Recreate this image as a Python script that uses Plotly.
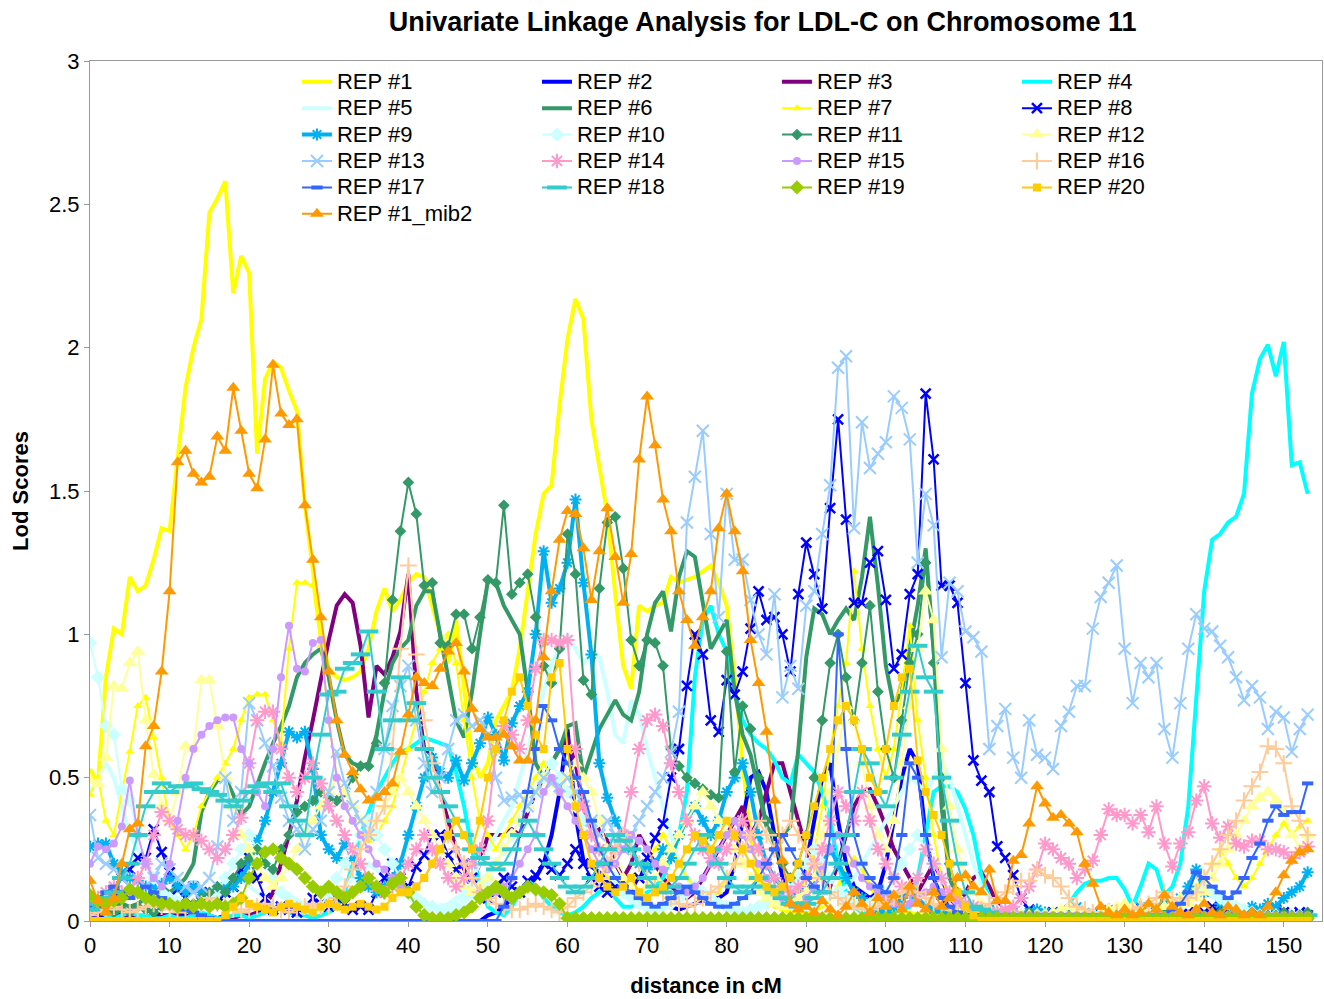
import plotly.graph_objects as go

distance_cM = list(range(154))
x_ticks = [0, 10, 20, 30, 40, 50, 60, 70, 80, 90, 100, 110, 120, 130, 140, 150]

r1 = [0.53,0.48,0.85,1.02,1.00,1.20,1.15,1.17,1.26,1.37,
      1.36,1.62,1.86,2.00,2.10,2.47,2.52,2.58,2.19,2.32,
      2.26,1.63,1.89,1.95,1.93,1.85,1.78,1.45,1.22,1.00,
      0.88,0.85,0.84,0.85,0.87,0.95,1.08,1.16,1.08,1.12,
      1.18,1.21,1.20,1.10,1.00,0.90,1.05,0.82,0.58,0.50,
      0.55,0.70,0.75,0.80,0.95,1.15,1.35,1.49,1.52,1.80,
      2.03,2.17,2.10,1.75,1.58,1.42,1.14,0.89,0.81,1.10,
      1.08,1.10,1.11,1.20,1.18,1.19,1.20,1.22,1.24,1.18,
      1.10,0.85,0.55,0.30,0.15,0.08,0.05,0.04,0.03,0.03,
      0.03,0.04,0.05,0.08,0.12,0.18,0.22,0.18,0.12,0.08,
      0.05,0.04,0.03,0.03,0.02,0.02,0.03,0.04,0.03,0.02,
      0.02,0.02,0.03,0.02,0.02,0.03,0.02,0.02,0.02,0.03,
      0.02,0.02,0.03,0.02,0.02,0.02,0.03,0.02,0.02,0.02,
      0.03,0.02,0.02,0.03,0.02,0.02,0.03,0.02,0.02,0.04,
      0.03,0.02,0.03,0.02,0.03,0.04,0.03,0.02,0.03,0.02,
      0.02,0.03,0.02,0.02]
r2 = [0.03,0.06,0.04,0.03,0.02,0.03,0.05,0.04,0.03,0.02,
      0.02,0.03,0.02,0.01,0.01,0.01,0.00,0.00,0.00,0.00,
      0,0,0,0,0,0,0,0,0,0,
      0,0,0,0,0,0,0,0,0,0,
      0,0,0,0,0,0,0,0,0,0,
      0.02,0.03,0.05,0.08,0.10,0.12,0.15,0.20,0.30,0.45,
      0.67,0.37,0.21,0.19,0.17,0.14,0.12,0.12,0.10,0.08,
      0.06,0.05,0.06,0.05,0.04,0.05,0.06,0.07,0.08,0.08,
      0.10,0.20,0.35,0.50,0.52,0.45,0.30,0.15,0.08,0.10,
      0.20,0.35,0.50,0.55,0.35,0.20,0.12,0.10,0.08,0.10,
      0.20,0.35,0.50,0.60,0.55,0.30,0.15,0.08,0.05,0.03,
      0.02,0.02,0.01,0.02,0.01,0.02,0.01,0.02,0.01,0.02,
      0.01,0.02,0.01,0.02,0.01,0.02,0.01,0.02,0.01,0.02,
      0.01,0.02,0.01,0.02,0.01,0.02,0.01,0.02,0.01,0.02,
      0.01,0.02,0.01,0.02,0.01,0.02,0.01,0.02,0.01,0.02,
      0.01,0.02,0.01,0.02]
r3 = [0.01,0.02,0.01,0.02,0.01,0.02,0.01,0.02,0.01,0.02,
      0.01,0.02,0.01,0.02,0.01,0.02,0.01,0.02,0.01,0.02,
      0.02,0.03,0.05,0.10,0.20,0.30,0.42,0.57,0.70,0.84,
      0.98,1.10,1.14,1.11,0.96,0.71,0.89,0.86,0.92,1.01,
      1.21,0.80,0.60,0.58,0.45,0.35,0.25,0.18,0.14,0.20,
      0.30,0.30,0.30,0.32,0.30,0.38,0.45,0.50,0.55,0.60,
      0.63,0.55,0.40,0.30,0.32,0.28,0.20,0.15,0.20,0.30,
      0.25,0.20,0.15,0.12,0.10,0.08,0.10,0.15,0.20,0.25,
      0.30,0.35,0.40,0.30,0.35,0.45,0.55,0.55,0.45,0.35,
      0.25,0.20,0.15,0.12,0.20,0.30,0.40,0.45,0.46,0.40,
      0.33,0.25,0.20,0.15,0.10,0.15,0.20,0.15,0.08,0.05,
      0.10,0.15,0.17,0.12,0.06,0.03,0.02,0.01,0.02,0.01,
      0.02,0.01,0.02,0.01,0.02,0.01,0.02,0.01,0.02,0.01,
      0.02,0.01,0.02,0.03,0.02,0.01,0.02,0.01,0.02,0.01,
      0.02,0.03,0.05,0.03,0.02,0.01,0.02,0.01,0.02,0.01,
      0.02,0.01,0.02,0.01]
r4 = [0.02,0.03,0.02,0.01,0.02,0.03,0.02,0.02,0.01,0.01,
      0.02,0.01,0.01,0.02,0.03,0.02,0.01,0.01,0.02,0.02,
      0.01,0.02,0.03,0.05,0.04,0.03,0.02,0.02,0.01,0.02,
      0.03,0.05,0.10,0.20,0.30,0.38,0.45,0.50,0.55,0.59,
      0.60,0.62,0.64,0.63,0.62,0.61,0.52,0.40,0.25,0.12,
      0.05,0.03,0.02,0.05,0.10,0.14,0.12,0.08,0.05,0.03,
      0.02,0.03,0.05,0.08,0.10,0.12,0.08,0.05,0.05,0.08,
      0.10,0.12,0.15,0.22,0.30,0.45,0.85,1.05,1.10,1.00,
      0.94,0.80,0.70,0.65,0.62,0.60,0.56,0.50,0.48,0.58,
      0.55,0.52,0.45,0.35,0.20,0.10,0.05,0.03,0.02,0.02,
      0.02,0.03,0.04,0.05,0.15,0.30,0.45,0.47,0.47,0.45,
      0.39,0.30,0.16,0.08,0.03,0.02,0.02,0.01,0.01,0.02,
      0.02,0.02,0.03,0.06,0.10,0.13,0.14,0.14,0.15,0.15,
      0.11,0.05,0.12,0.20,0.18,0.09,0.12,0.20,0.40,0.80,
      1.15,1.33,1.35,1.39,1.41,1.49,1.84,1.96,2.01,1.90,
      2.02,1.59,1.60,1.49]
r5 = [0.45,0.50,0.55,0.50,0.40,0.30,0.25,0.20,0.15,0.12,
      0.10,0.08,0.06,0.05,0.05,0.06,0.08,0.10,0.12,0.15,
      0.12,0.10,0.08,0.06,0.05,0.04,0.03,0.03,0.04,0.05,
      0.08,0.10,0.12,0.15,0.18,0.20,0.18,0.15,0.12,0.10,
      0.08,0.06,0.05,0.04,0.05,0.06,0.08,0.10,0.15,0.20,
      0.25,0.30,0.35,0.40,0.50,0.60,0.70,0.80,0.90,0.95,
      1.00,0.95,0.90,0.93,0.92,0.80,0.65,0.62,0.77,0.72,
      0.60,0.50,0.40,0.30,0.20,0.15,0.10,0.08,0.06,0.05,
      0.05,0.06,0.08,0.10,0.12,0.10,0.08,0.06,0.05,0.04,
      0.04,0.05,0.06,0.08,0.10,0.12,0.15,0.20,0.25,0.30,
      0.35,0.40,0.45,0.50,0.48,0.45,0.50,0.55,0.50,0.40,
      0.30,0.20,0.12,0.08,0.05,0.03,0.02,0.02,0.02,0.02,
      0.02,0.02,0.02,0.02,0.02,0.02,0.02,0.02,0.02,0.02,
      0.02,0.02,0.02,0.02,0.02,0.02,0.03,0.05,0.08,0.10,
      0.12,0.10,0.08,0.05,0.03,0.02,0.02,0.02,0.02,0.02,
      0.02,0.02,0.02,0.02]
r6 = [0.05,0.04,0.04,0.05,0.06,0.05,0.06,0.08,0.10,0.12,
      0.10,0.12,0.15,0.20,0.38,0.45,0.49,0.50,0.44,0.37,
      0.40,0.48,0.55,0.62,0.68,0.75,0.85,0.90,0.93,0.95,
      0.85,0.70,0.58,0.55,0.54,0.55,0.65,0.80,0.90,0.95,
      0.98,1.10,1.15,1.15,1.00,0.85,0.70,0.64,0.80,1.00,
      1.19,1.18,1.10,1.05,1.00,0.80,0.55,0.50,0.55,0.60,
      0.68,0.69,0.50,0.58,0.67,0.72,0.77,0.72,0.70,0.80,
      1.00,1.11,1.15,1.01,1.20,1.29,1.27,1.11,0.95,1.00,
      1.05,0.80,0.65,0.58,0.45,0.33,0.30,0.30,0.33,0.60,
      0.92,1.09,1.07,1.00,1.05,1.09,1.05,1.20,1.41,1.17,
      0.89,0.75,0.80,0.96,1.10,1.30,0.95,0.40,0.15,0.08,
      0.04,0.03,0.02,0.02,0.02,0.02,0.02,0.02,0.02,0.02,
      0.02,0.02,0.02,0.02,0.02,0.02,0.02,0.02,0.02,0.02,
      0.02,0.02,0.02,0.02,0.02,0.02,0.02,0.02,0.02,0.02,
      0.02,0.02,0.02,0.02,0.02,0.02,0.02,0.02,0.02,0.02,
      0.02,0.02,0.02,0.02]
r7 = [0.44,0.50,0.35,0.30,0.45,0.59,0.75,0.78,0.64,0.50,
      0.35,0.30,0.25,0.30,0.40,0.45,0.50,0.55,0.60,0.70,
      0.78,0.79,0.79,0.70,0.62,0.95,1.18,1.18,1.17,0.96,
      0.70,0.50,0.40,0.35,0.30,0.28,0.30,0.35,0.40,0.50,
      0.60,0.70,0.80,0.90,0.95,1.00,0.90,0.70,0.50,0.35,
      0.30,0.25,0.30,0.35,0.40,0.45,0.50,0.55,0.50,0.45,
      0.40,0.35,0.30,0.25,0.20,0.15,0.12,0.10,0.12,0.15,
      0.20,0.25,0.30,0.25,0.20,0.15,0.12,0.10,0.08,0.10,
      0.15,0.20,0.25,0.30,0.25,0.20,0.15,0.10,0.08,0.10,
      0.15,0.25,0.40,0.60,0.75,0.90,1.22,0.95,0.75,0.60,
      0.50,0.60,0.80,1.03,0.70,0.50,0.30,0.15,0.08,0.05,
      0.04,0.03,0.02,0.03,0.02,0.03,0.02,0.03,0.02,0.03,
      0.02,0.03,0.02,0.03,0.02,0.03,0.02,0.03,0.02,0.03,
      0.02,0.03,0.02,0.03,0.04,0.05,0.06,0.08,0.10,0.12,
      0.15,0.20,0.25,0.20,0.15,0.12,0.15,0.20,0.25,0.30,
      0.34,0.30,0.33,0.35]
r8 = [0.05,0.03,0.06,0.10,0.15,0.18,0.22,0.22,0.32,0.24,
      0.17,0.11,0.08,0.12,0.10,0.07,0.06,0.10,0.12,0.18,
      0.22,0.15,0.08,0.04,0.05,0.04,0.03,0.05,0.08,0.06,
      0.05,0.08,0.06,0.04,0.05,0.04,0.10,0.15,0.20,0.15,
      0.12,0.19,0.23,0.30,0.30,0.23,0.18,0.20,0.15,0.10,
      0.08,0.10,0.15,0.12,0.10,0.14,0.16,0.20,0.18,0.16,
      0.20,0.25,0.20,0.15,0.12,0.10,0.12,0.14,0.10,0.15,
      0.22,0.29,0.34,0.50,0.60,0.82,1.00,0.93,0.70,0.66,
      0.84,0.79,0.87,1.02,1.15,1.05,1.06,1.00,0.87,1.14,
      1.32,1.21,1.09,1.44,1.75,1.40,1.11,1.11,1.25,1.29,
      1.12,0.88,0.93,1.14,1.21,1.84,1.61,1.17,1.17,1.11,
      0.83,0.56,0.49,0.45,0.26,0.22,0.16,0.08,0.04,0.02,
      0.02,0.03,0.02,0.02,0.03,0.02,0.02,0.03,0.02,0.02,
      0.03,0.04,0.02,0.03,0.02,0.03,0.02,0.02,0.03,0.02,
      0.03,0.05,0.04,0.02,0.03,0.02,0.02,0.03,0.02,0.04,
      0.03,0.02,0.03,0.02]
r9 = [0.26,0.27,0.27,0.20,0.17,0.15,0.14,0.12,0.12,0.13,
      0.15,0.12,0.10,0.12,0.10,0.08,0.10,0.12,0.12,0.15,
      0.20,0.28,0.35,0.45,0.55,0.66,0.64,0.66,0.53,0.30,
      0.25,0.22,0.27,0.22,0.15,0.12,0.10,0.12,0.15,0.20,
      0.30,0.40,0.50,0.57,0.52,0.50,0.56,0.49,0.55,0.62,
      0.71,0.65,0.56,0.69,0.75,0.80,1.00,1.29,1.11,1.16,
      1.25,1.47,1.18,0.93,0.55,0.43,0.35,0.30,0.25,0.20,
      0.18,0.20,0.25,0.22,0.30,0.35,0.40,0.35,0.30,0.35,
      0.45,0.50,0.55,0.45,0.30,0.20,0.15,0.12,0.10,0.08,
      0.10,0.15,0.20,0.25,0.20,0.15,0.10,0.08,0.05,0.04,
      0.03,0.05,0.08,0.10,0.08,0.05,0.04,0.03,0.02,0.02,
      0.03,0.02,0.03,0.04,0.03,0.02,0.03,0.02,0.03,0.04,
      0.03,0.02,0.03,0.04,0.05,0.03,0.02,0.03,0.04,0.03,
      0.02,0.04,0.05,0.03,0.04,0.06,0.05,0.08,0.12,0.18,
      0.10,0.10,0.06,0.05,0.04,0.03,0.05,0.04,0.06,0.05,
      0.08,0.10,0.12,0.17]
r10 = [0.97,0.85,0.68,0.65,0.46,0.42,0.30,0.20,0.15,0.10,
       0.08,0.06,0.05,0.05,0.06,0.08,0.10,0.15,0.20,0.25,
       0.30,0.25,0.20,0.15,0.10,0.08,0.06,0.05,0.04,0.05,
       0.10,0.15,0.20,0.25,0.30,0.35,0.30,0.25,0.20,0.15,
       0.10,0.08,0.06,0.05,0.04,0.03,0.05,0.08,0.10,0.12,
       0.15,0.20,0.25,0.30,0.35,0.40,0.45,0.50,0.55,0.50,
       0.45,0.40,0.35,0.30,0.25,0.20,0.15,0.10,0.08,0.06,
       0.05,0.04,0.05,0.06,0.08,0.10,0.12,0.10,0.08,0.06,
       0.05,0.04,0.03,0.04,0.05,0.06,0.08,0.10,0.12,0.15,
       0.20,0.25,0.20,0.15,0.10,0.08,0.06,0.05,0.06,0.08,
       0.10,0.15,0.20,0.25,0.30,0.25,0.20,0.15,0.10,0.08,
       0.06,0.05,0.04,0.03,0.02,0.02,0.02,0.02,0.02,0.02,
       0.02,0.02,0.02,0.02,0.02,0.02,0.02,0.02,0.02,0.02,
       0.02,0.02,0.02,0.02,0.02,0.02,0.03,0.05,0.08,0.10,
       0.12,0.10,0.08,0.06,0.05,0.04,0.03,0.02,0.02,0.02,
       0.02,0.02,0.02,0.02]
r11 = [0.03,0.04,0.05,0.03,0.04,0.03,0.05,0.04,0.03,0.05,
       0.06,0.05,0.04,0.06,0.08,0.10,0.12,0.10,0.15,0.20,
       0.22,0.25,0.20,0.18,0.25,0.30,0.38,0.40,0.42,0.45,
       0.43,0.42,0.45,0.50,0.54,0.54,0.62,0.83,1.12,1.36,
       1.53,1.42,1.17,1.18,0.97,0.96,1.07,1.07,0.95,1.06,
       1.19,1.18,1.45,1.14,1.18,1.21,1.06,0.89,0.83,0.95,
       1.35,1.21,0.84,0.79,1.16,1.39,1.41,1.23,0.98,0.89,
       0.98,0.97,0.89,0.60,0.54,0.50,0.48,0.46,0.44,0.43,
       0.94,0.52,0.75,0.67,0.50,0.35,0.25,0.20,0.15,0.20,
       0.30,0.50,0.70,0.90,1.00,0.85,0.70,0.90,1.10,0.80,
       0.60,0.50,0.70,0.90,1.00,1.25,0.90,0.50,0.20,0.10,
       0.05,0.04,0.03,0.03,0.02,0.03,0.02,0.02,0.03,0.02,
       0.02,0.03,0.02,0.02,0.03,0.02,0.02,0.02,0.03,0.02,
       0.02,0.03,0.02,0.02,0.02,0.03,0.02,0.02,0.02,0.03,
       0.02,0.02,0.03,0.02,0.02,0.02,0.03,0.02,0.02,0.02,
       0.03,0.02,0.02,0.03]
r12 = [0.49,0.48,0.57,0.82,0.81,0.90,0.94,0.70,0.51,0.40,
       0.35,0.45,0.61,0.60,0.84,0.84,0.68,0.50,0.40,0.30,
       0.25,0.20,0.15,0.12,0.15,0.20,0.25,0.30,0.35,0.40,
       0.45,0.50,0.45,0.40,0.35,0.30,0.35,0.40,0.45,0.50,
       0.45,0.40,0.35,0.30,0.25,0.20,0.15,0.12,0.10,0.12,
       0.15,0.20,0.25,0.30,0.35,0.40,0.45,0.50,0.48,0.45,
       0.50,0.55,0.50,0.45,0.35,0.25,0.20,0.15,0.12,0.10,
       0.12,0.15,0.20,0.25,0.30,0.35,0.40,0.45,0.40,0.35,
       0.30,0.25,0.20,0.15,0.10,0.08,0.06,0.05,0.06,0.08,
       0.10,0.15,0.30,0.45,0.60,0.75,0.70,0.55,0.40,0.30,
       0.25,0.35,0.55,0.75,0.95,1.15,1.05,0.60,0.40,0.25,
       0.15,0.10,0.06,0.04,0.03,0.02,0.02,0.02,0.02,0.02,
       0.02,0.03,0.04,0.05,0.04,0.03,0.02,0.03,0.04,0.05,
       0.06,0.05,0.04,0.03,0.04,0.05,0.06,0.08,0.06,0.08,
       0.10,0.15,0.20,0.25,0.30,0.35,0.40,0.43,0.45,0.42,
       0.38,0.30,0.25,0.30]
r13 = [0.37,0.22,0.20,0.18,0.15,0.12,0.10,0.12,0.15,0.20,
       0.18,0.15,0.12,0.10,0.12,0.15,0.26,0.50,0.35,0.45,
       0.76,0.70,0.62,0.54,0.43,0.35,0.32,0.25,0.32,0.35,
       0.45,0.59,0.48,0.40,0.35,0.30,0.45,0.60,0.75,0.82,
       0.89,0.70,0.55,0.45,0.50,0.60,0.70,0.72,0.68,0.70,
       0.65,0.50,0.42,0.43,0.44,0.40,0.45,0.50,0.48,0.47,
       0.50,0.45,0.40,0.35,0.30,0.35,0.30,0.25,0.30,0.35,
       0.40,0.45,0.50,0.59,0.73,1.39,1.55,1.71,1.35,1.06,
       1.49,1.26,1.26,1.12,1.00,0.93,1.14,0.78,0.89,0.81,
       1.10,1.15,1.35,1.52,1.93,1.97,1.37,1.74,1.58,1.63,
       1.67,1.83,1.79,1.68,1.25,1.49,1.38,0.92,1.18,1.15,
       1.01,0.99,0.94,0.60,0.68,0.74,0.57,0.50,0.70,0.58,
       0.57,0.53,0.68,0.73,0.82,0.82,1.02,1.13,1.18,1.24,
       0.95,0.76,0.90,0.85,0.90,0.67,0.57,0.76,0.95,1.07,
       1.02,1.01,0.96,0.92,0.85,0.77,0.82,0.78,0.67,0.73,
       0.71,0.59,0.67,0.72]
r14 = [0.05,0.08,0.10,0.12,0.10,0.10,0.15,0.20,0.30,0.38,
       0.35,0.32,0.30,0.30,0.28,0.25,0.22,0.25,0.30,0.36,
       0.55,0.70,0.73,0.73,0.60,0.50,0.45,0.50,0.55,0.48,
       0.40,0.35,0.30,0.25,0.20,0.15,0.12,0.10,0.12,0.15,
       0.20,0.25,0.30,0.25,0.20,0.15,0.12,0.15,0.20,0.25,
       0.35,0.60,0.68,0.65,0.60,0.70,0.88,0.98,0.98,0.97,
       0.98,0.60,0.40,0.30,0.25,0.20,0.25,0.30,0.45,0.60,
       0.70,0.72,0.68,0.55,0.45,0.35,0.30,0.25,0.22,0.20,
       0.25,0.30,0.35,0.30,0.25,0.20,0.15,0.12,0.10,0.12,
       0.15,0.20,0.25,0.35,0.45,0.40,0.35,0.45,0.35,0.25,
       0.20,0.15,0.12,0.10,0.15,0.25,0.20,0.15,0.10,0.08,
       0.06,0.05,0.04,0.03,0.03,0.04,0.05,0.08,0.12,0.18,
       0.27,0.25,0.22,0.20,0.15,0.18,0.21,0.30,0.39,0.37,
       0.37,0.34,0.37,0.31,0.40,0.27,0.19,0.27,0.31,0.42,
       0.47,0.34,0.29,0.33,0.27,0.26,0.28,0.28,0.25,0.25,
       0.24,0.22,0.24,0.26]
r15 = [0.20,0.26,0.25,0.27,0.33,0.49,0.30,0.20,0.15,0.12,
       0.20,0.35,0.50,0.60,0.65,0.68,0.70,0.71,0.71,0.60,
       0.55,0.45,0.40,0.60,0.85,1.03,0.88,0.87,0.97,0.98,
       0.70,0.50,0.40,0.35,0.30,0.25,0.20,0.18,0.15,0.12,
       0.10,0.12,0.15,0.20,0.25,0.30,0.25,0.20,0.15,0.10,
       0.08,0.10,0.12,0.15,0.20,0.25,0.30,0.45,0.50,0.45,
       0.40,0.35,0.30,0.25,0.20,0.18,0.20,0.25,0.30,0.28,
       0.25,0.20,0.18,0.15,0.12,0.10,0.12,0.15,0.20,0.25,
       0.30,0.35,0.30,0.25,0.20,0.15,0.10,0.08,0.06,0.05,
       0.08,0.12,0.18,0.25,0.30,0.25,0.20,0.15,0.12,0.10,
       0.08,0.06,0.05,0.06,0.08,0.10,0.12,0.10,0.08,0.06,
       0.04,0.03,0.02,0.02,0.02,0.02,0.02,0.02,0.02,0.02,
       0.02,0.02,0.02,0.02,0.02,0.02,0.02,0.02,0.02,0.02,
       0.02,0.02,0.02,0.02,0.02,0.02,0.02,0.02,0.02,0.02,
       0.02,0.02,0.02,0.02,0.02,0.02,0.02,0.02,0.02,0.02,
       0.02,0.02,0.02,0.02]
r16 = [0.02,0.03,0.04,0.05,0.04,0.03,0.04,0.05,0.06,0.05,
       0.04,0.03,0.04,0.05,0.06,0.08,0.06,0.05,0.04,0.03,
       0.04,0.05,0.06,0.05,0.04,0.03,0.04,0.05,0.06,0.05,
       0.05,0.08,0.12,0.18,0.25,0.30,0.35,0.40,0.60,0.95,
       1.24,0.93,0.70,0.55,0.45,0.30,0.25,0.20,0.15,0.10,
       0.08,0.06,0.05,0.04,0.04,0.05,0.06,0.05,0.04,0.03,
       0.05,0.08,0.10,0.12,0.15,0.20,0.25,0.30,0.25,0.20,
       0.15,0.12,0.10,0.08,0.06,0.05,0.06,0.08,0.10,0.12,
       0.15,0.20,0.25,0.30,0.35,0.30,0.25,0.30,0.35,0.30,
       0.25,0.20,0.15,0.10,0.08,0.06,0.05,0.04,0.04,0.05,
       0.06,0.08,0.10,0.12,0.10,0.08,0.06,0.05,0.04,0.03,
       0.02,0.03,0.04,0.06,0.08,0.10,0.12,0.14,0.14,0.18,
       0.16,0.15,0.12,0.08,0.05,0.04,0.03,0.02,0.02,0.03,
       0.03,0.04,0.05,0.06,0.08,0.10,0.08,0.06,0.08,0.10,
       0.15,0.20,0.25,0.30,0.35,0.42,0.47,0.52,0.61,0.60,
       0.55,0.40,0.35,0.30]
r17 = [0.05,0.08,0.10,0.12,0.10,0.08,0.10,0.12,0.10,0.08,
       0.06,0.05,0.04,0.03,0.02,0.01,0,0,0,0,
       0,0,0,0,0,0,0,0,0,0,
       0,0,0,0,0,0,0,0,0,0,
       0,0,0,0,0,0,0,0,0,0,
       0,0,0.05,0.15,0.30,0.45,0.60,0.75,0.70,0.60,
       0.55,0.50,0.45,0.35,0.25,0.20,0.15,0.12,0.10,0.08,
       0.06,0.05,0.06,0.08,0.10,0.12,0.10,0.08,0.06,0.05,
       0.05,0.06,0.08,0.10,0.15,0.20,0.25,0.30,0.25,0.20,
       0.15,0.12,0.10,0.30,1.00,0.60,0.30,0.20,0.15,0.12,
       0.10,0.15,0.30,0.55,0.50,0.30,0.15,0.08,0.05,0.03,
       0.02,0.02,0.02,0.02,0.02,0.02,0.02,0.02,0.02,0.02,
       0.02,0.02,0.02,0.02,0.02,0.02,0.02,0.02,0.02,0.02,
       0.02,0.02,0.02,0.02,0.02,0.02,0.04,0.06,0.10,0.17,
       0.15,0.12,0.10,0.08,0.10,0.15,0.22,0.27,0.35,0.40,
       0.37,0.38,0.38,0.48]
r18 = [0.04,0.06,0.08,0.10,0.15,0.20,0.30,0.40,0.45,0.48,
       0.45,0.47,0.47,0.48,0.46,0.45,0.44,0.42,0.40,0.42,
       0.45,0.47,0.48,0.45,0.48,0.40,0.35,0.30,0.50,0.65,
       0.79,0.80,0.88,0.90,0.93,1.01,0.80,0.60,0.70,0.85,
       0.70,0.76,0.60,0.50,0.45,0.40,0.35,0.30,0.25,0.22,
       0.20,0.18,0.20,0.25,0.30,0.35,0.30,0.25,0.20,0.15,
       0.12,0.10,0.12,0.15,0.20,0.25,0.30,0.28,0.25,0.20,
       0.15,0.12,0.10,0.12,0.15,0.20,0.25,0.30,0.25,0.20,
       0.15,0.12,0.10,0.12,0.15,0.12,0.10,0.08,0.06,0.05,
       0.06,0.08,0.10,0.15,0.20,0.30,0.45,0.60,0.55,0.45,
       0.40,0.50,0.65,0.80,0.96,0.85,0.80,0.50,0.35,0.20,
       0.10,0.05,0.04,0.03,0.02,0.02,0.02,0.02,0.02,0.02,
       0.02,0.02,0.02,0.02,0.02,0.02,0.02,0.02,0.02,0.02,
       0.02,0.02,0.02,0.02,0.02,0.02,0.02,0.02,0.02,0.02,
       0.02,0.02,0.02,0.02,0.02,0.02,0.02,0.02,0.02,0.02,
       0.02,0.02,0.02,0.02]
r19 = [0.09,0.07,0.06,0.07,0.08,0.11,0.10,0.08,0.07,0.06,
       0.06,0.05,0.06,0.05,0.06,0.05,0.06,0.05,0.06,0.08,
       0.15,0.20,0.24,0.25,0.22,0.20,0.18,0.15,0.12,0.10,
       0.12,0.10,0.08,0.10,0.12,0.15,0.12,0.10,0.13,0.15,
       0.10,0.05,0.02,0.01,0.01,0.01,0.02,0.03,0.05,0.08,
       0.10,0.12,0.10,0.08,0.10,0.12,0.11,0.10,0.09,0.06,
       0.01,0.01,0.01,0.01,0.01,0.01,0.01,0.01,0.01,0.01,
       0.01,0.01,0.01,0.01,0.01,0.01,0.01,0.01,0.01,0.01,
       0.01,0.01,0.01,0.01,0.01,0.01,0.01,0.01,0.01,0.01,
       0.01,0.01,0.01,0.01,0.01,0.01,0.01,0.01,0.01,0.01,
       0.01,0.01,0.01,0.01,0.01,0.01,0.01,0.01,0.01,0.01,
       0.01,0.01,0.01,0.01,0.01,0.01,0.01,0.01,0.01,0.01,
       0.01,0.01,0.01,0.01,0.01,0.01,0.01,0.01,0.01,0.01,
       0.01,0.01,0.01,0.01,0.01,0.01,0.01,0.01,0.01,0.01,
       0.01,0.01,0.01,0.01,0.01,0.01,0.01,0.01,0.01,0.01,
       0.01,0.01,0.01,0.01]
r20 = [0,0,0,0,0,0,0,0,0,0,
       0,0,0,0,0,0,0,0.02,0.05,0.08,
       0.06,0.05,0.04,0.03,0.05,0.06,0.05,0.04,0.03,0.05,
       0.06,0.05,0.04,0.05,0.06,0.05,0.04,0.05,0.08,0.10,
       0.10,0.12,0.15,0.20,0.25,0.30,0.35,0.30,0.25,0.35,
       0.50,0.60,0.70,0.80,0.85,0.75,0.65,0.60,0.85,0.90,
       0.60,0.40,0.30,0.20,0.15,0.12,0.10,0.12,0.15,0.10,
       0.08,0.10,0.12,0.15,0.20,0.25,0.30,0.28,0.25,0.30,
       0.35,0.30,0.25,0.20,0.15,0.12,0.10,0.12,0.15,0.20,
       0.30,0.40,0.50,0.60,0.70,0.75,0.70,0.60,0.50,0.45,
       0.60,0.75,0.85,0.88,0.56,0.45,0.37,0.30,0.20,0.10,
       0.05,0.02,0,0,0,0,0,0,0,0,
       0,0,0,0,0,0,0,0,0,0,
       0,0,0,0,0,0,0,0,0,0,
       0,0,0,0,0,0,0,0,0,0,
       0,0,0,0]
r1_mib2 = [0.14,0.07,0.03,0.08,0.20,0.32,0.34,0.61,0.68,0.87,
           1.15,1.60,1.64,1.56,1.53,1.55,1.69,1.64,1.86,1.71,
           1.56,1.51,1.68,1.94,1.77,1.73,1.75,1.45,1.26,1.06,
           0.87,0.70,0.58,0.52,0.46,0.42,0.43,0.45,0.48,0.59,
           0.72,0.85,0.83,0.82,0.88,0.94,0.97,0.87,0.74,0.67,
           0.64,0.64,0.65,0.61,0.56,0.56,0.70,0.92,1.15,1.33,
           1.43,1.42,1.30,1.12,1.29,1.44,1.27,1.11,1.28,1.61,
           1.83,1.66,1.47,1.36,1.15,1.05,0.96,1.06,1.15,1.37,
           1.49,1.36,1.22,0.98,0.83,0.66,0.42,0.21,0.06,0.04,
           0.05,0.03,0.07,0.04,0.02,0.05,0.10,0.06,0.03,0.08,
           0.05,0.09,0.04,0.12,0.06,0.04,0.10,0.05,0.08,0.15,
           0.16,0.12,0.10,0.18,0.07,0.07,0.21,0.23,0.34,0.47,
           0.41,0.36,0.37,0.34,0.31,0.20,0.13,0.05,0.03,0.02,
           0.04,0.02,0.03,0.06,0.04,0.09,0.05,0.03,0.02,0.04,
           0.06,0.03,0.02,0.05,0.04,0.02,0.03,0.02,0.05,0.10,
           0.16,0.21,0.24,0.25]

series_names = ["REP #1", "REP #2", "REP #3", "REP #4", "REP #5", "REP #6", "REP #7",
                "REP #8", "REP #9", "REP #10", "REP #11", "REP #12", "REP #13", "REP #14",
                "REP #15", "REP #16", "REP #17", "REP #18", "REP #19", "REP #20", "REP #1_mib2"]
series_values = [r1, r2, r3, r4, r5, r6, r7, r8, r9, r10, r11, r12, r13, r14,
                 r15, r16, r17, r18, r19, r20, r1_mib2]

# (color, line width, marker symbol, marker size, marker outline width)
styles = [
    ("#FFFF00", 4, None, 0, 0),
    ("#0000FF", 4, None, 0, 0),
    ("#800080", 4, None, 0, 0),
    ("#00FFFF", 4, None, 0, 0),
    ("#CCFFFF", 4, None, 0, 0),
    ("#339966", 4, None, 0, 0),
    ("#FFFF00", 2, "triangle-up", 8, 0),
    ("#0000FF", 2, "x-thin", 10, 2.5),
    ("#00B0F0", 4, "asterisk", 10, 2),
    ("#CCFFFF", 2, "diamond", 11, 0),
    ("#339966", 2, "diamond", 9, 0),
    ("#FFFF99", 2, "triangle-up", 13, 0),
    ("#99CCFF", 2, "x-thin", 12, 2),
    ("#FF99CC", 2, "asterisk", 12, 2),
    ("#CC99FF", 2, "circle", 8, 0),
    ("#FFCC99", 2, "cross-thin", 12, 2),
    ("#3366FF", 2, "line-ew", 8, 4),
    ("#33CCCC", 2, "line-ew", 14, 4),
    ("#99CC00", 2, "diamond", 11, 0),
    ("#FFCC00", 2, "square", 8, 0),
    ("#FF9900", 2, "triangle-up", 12, 0),
]

legend_ids = ["legend", "legend2", "legend3", "legend4"]

fig = go.Figure()
for i, (name, vals, st) in enumerate(zip(series_names, series_values, styles)):
    color, lw, sym, msize, mlw = st
    kw = dict(x=distance_cM, y=vals, name='<span style="font-size:22px">' + name + '</span>',
              line=dict(color=color, width=lw), legend=legend_ids[i % 4])
    if sym is None:
        kw["mode"] = "lines"
    else:
        kw["mode"] = "lines+markers"
        kw["marker"] = dict(symbol=sym, size=msize, color=color,
                            line=dict(color=color, width=mlw))
    fig.add_trace(go.Scatter(**kw))

FONT = "Liberation Sans, Arial, sans-serif"
axis_col = "#999999"

leg_common = dict(y=0.997, yanchor="top", xanchor="left", bgcolor="rgba(0,0,0,0)",
                  font=dict(family=FONT, size=18, color="black"), tracegroupgap=0)

fig.update_layout(
    width=1324, height=999,
    margin=dict(l=90, r=2, t=61, b=78),
    paper_bgcolor="white", plot_bgcolor="white",
    font=dict(family=FONT, size=22, color="black"),
    title=dict(text="<b>Univariate Linkage Analysis for LDL-C on Chromosome 11</b>",
               x=0.576, xanchor="center", y=0.978, yanchor="middle",
               font=dict(family=FONT, size=27, color="black")),
    xaxis=dict(range=[0, 154.8], tickmode="array", tickvals=x_ticks,
               ticks="outside", ticklen=5, tickcolor=axis_col,
               showline=True, linecolor=axis_col, linewidth=1, mirror=True,
               showgrid=False, zeroline=False,
               tickfont=dict(family=FONT, size=22),
               title=dict(text="<b>distance in cM</b>", standoff=20,
                          font=dict(family=FONT, size=22))),
    yaxis=dict(range=[0, 3], dtick=0.5, tick0=0,
               ticks="outside", ticklen=5, tickcolor=axis_col,
               showline=True, linecolor=axis_col, linewidth=1, mirror=True,
               showgrid=False, zeroline=False,
               tickfont=dict(family=FONT, size=22),
               title=dict(text="<b>Lod Scores</b>", standoff=14,
                          font=dict(family=FONT, size=22))),
    legend=dict(x=0.168, **leg_common),
    legend2=dict(x=0.168 + 0.1948, **leg_common),
    legend3=dict(x=0.168 + 2 * 0.1948, **leg_common),
    legend4=dict(x=0.168 + 3 * 0.1948, **leg_common),
)

fig.write_html("out.html", config={"displayModeBar": False},
               post_script="document.body.style.margin='0';document.body.style.overflow='hidden';")
